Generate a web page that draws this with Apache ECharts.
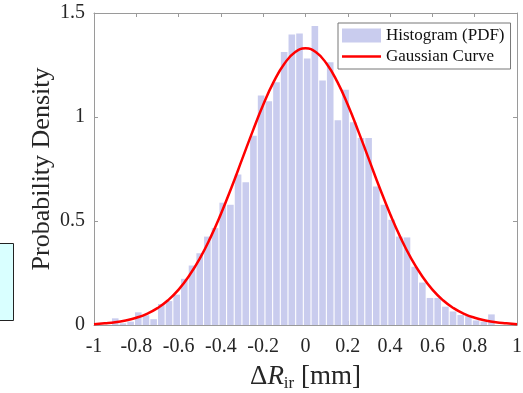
<!DOCTYPE html>
<html>
<head>
<meta charset="utf-8">
<script src="https://cdn.jsdelivr.net/npm/echarts@6/dist/echarts.min.js"></script>
<style>
  html, body { margin: 0; padding: 0; background: #fff; }
  #chart { width: 523px; height: 393px; }
</style>
</head>
<body>
<div id="chart"></div>
<script>
// histogram bins (PDF), 50 bins
const binLeft = -0.9177;
const binWidth = 0.0363;
const pdfValues = [
  0.032, 0.008, 0.016, 0.061, 0.047, 0.028, 0.101, 0.115, 0.146, 0.222,
  0.286, 0.345, 0.425, 0.466, 0.588, 0.578, 0.723, 0.686, 0.910, 1.103,
  1.076, 1.167, 1.313, 1.397, 1.402, 1.281, 1.437, 1.176, 1.263, 0.984,
  1.131, 0.975, 0.899, 0.899, 0.666, 0.578, 0.506, 0.425, 0.421, 0.280,
  0.204, 0.130, 0.130, 0.088, 0.065, 0.048, 0.043, 0.022, 0.016, 0.051
];

// gaussian curve, x = -1 .. 1 step 0.05
const curveX = [
  -1, -0.95, -0.9, -0.85, -0.8, -0.75, -0.7, -0.65, -0.6, -0.55, -0.5,
  -0.45, -0.4, -0.35, -0.3, -0.25, -0.2, -0.15, -0.1, -0.05, 0,
  0.05, 0.1, 0.15, 0.2, 0.25, 0.3, 0.35, 0.4, 0.45, 0.5,
  0.55, 0.6, 0.65, 0.7, 0.75, 0.8, 0.85, 0.9, 0.95, 1
];
const curveY = [
  0.004, 0.008, 0.013, 0.022, 0.035, 0.054, 0.081, 0.119, 0.170, 0.237, 0.319,
  0.419, 0.534, 0.661, 0.796, 0.931, 1.059, 1.170, 1.256, 1.311, 1.330,
  1.311, 1.256, 1.170, 1.059, 0.931, 0.796, 0.661, 0.534, 0.419, 0.319,
  0.237, 0.170, 0.119, 0.081, 0.054, 0.035, 0.022, 0.013, 0.008, 0.004
];

const xTicks = ['-1', '-0.8', '-0.6', '-0.4', '-0.2', '0', '0.2', '0.4', '0.6', '0.8', '1'];
const yTicks = ['0', '0.5', '1', '1.5'];

const font = 'Liberation Serif';
const axisColor = '#9a9a9a';
const textColor = '#262626';

const barData = pdfValues.map((v, i) => [binLeft + binWidth * (i + 0.5), v]);
const lineData = curveX.map((x, i) => [x, curveY[i]]);

const tickLabel = (list) => (v) => {
  const hit = list.find(t => Math.abs(parseFloat(t) - v) < 1e-6);
  return hit === undefined ? '' : hit;
};

const chart = echarts.init(document.getElementById('chart'));

const frameAxis = {
  axisLine: { show: true, onZero: false, lineStyle: { color: axisColor, width: 1 } },
  axisTick: { show: true, inside: true, length: 4, lineStyle: { color: axisColor } },
  splitLine: { show: false }
};

chart.setOption({
  animation: false,
  grid: { left: 94, right: 6, top: 13, bottom: 68, outerBoundsMode: 'none' },
  legend: {
    orient: 'vertical',
    left: 338,
    top: 23,
    itemWidth: 39,
    itemHeight: 14,
    itemGap: 4,
    padding: [4, 6, 4, 4],
    borderColor: '#777',
    borderWidth: 1,
    borderRadius: 0,
    backgroundColor: '#fff',
    textStyle: { fontFamily: font, fontSize: 17, color: '#111' },
    data: [
      { name: 'Histogram (PDF)', icon: 'rect' },
      { name: 'Gaussian Curve', icon: 'path://M0,0 L39,0 L39,2.5 L0,2.5 Z' }
    ]
  },
  xAxis: [
    Object.assign({}, frameAxis, {
      type: 'value', min: -1, max: 1, interval: 0.2,
      axisLabel: {
        fontFamily: font, fontSize: 20, color: textColor, margin: 12,
        formatter: tickLabel(xTicks)
      },
      name: '{d|Δ}{r|R}{s|ir}{n| [mm]}',
      nameLocation: 'middle',
      nameGap: 37,
      nameMoveOverlap: false,
      nameTextStyle: {
        rich: {
          d: { fontFamily: font, fontSize: 27, color: textColor, lineHeight: 30 },
          r: { fontFamily: font, fontSize: 27, fontStyle: 'italic', color: textColor, lineHeight: 30 },
          s: { fontFamily: font, fontSize: 17, color: textColor, verticalAlign: 'bottom', lineHeight: 30 },
          n: { fontFamily: font, fontSize: 27, color: textColor, lineHeight: 30 }
        }
      }
    }),
    Object.assign({}, frameAxis, {
      type: 'value', min: -1, max: 1, interval: 0.2, position: 'top',
      axisLabel: { show: false }
    })
  ],
  yAxis: [
    Object.assign({}, frameAxis, {
      type: 'value', min: 0, max: 1.5, interval: 0.5,
      axisLabel: {
        fontFamily: font, fontSize: 20, color: textColor, margin: 9,
        formatter: tickLabel(yTicks)
      },
      name: 'Probability Density',
      nameLocation: 'middle',
      nameGap: 39,
      nameMoveOverlap: false,
      nameTextStyle: { fontFamily: font, fontSize: 26, color: textColor }
    }),
    Object.assign({}, frameAxis, {
      type: 'value', min: 0, max: 1.5, interval: 0.5, position: 'right',
      axisLabel: { show: false }
    })
  ],
  series: [
    {
      name: 'Histogram (PDF)',
      type: 'bar',
      xAxisIndex: 0,
      yAxisIndex: 0,
      barWidth: 6.6,
      itemStyle: { color: 'rgb(201,204,238)' },
      data: barData
    },
    {
      name: 'Gaussian Curve',
      type: 'line',
      xAxisIndex: 0,
      yAxisIndex: 0,
      smooth: true,
      symbol: 'none',
      lineStyle: { color: '#ff0000', width: 2.5 },
      itemStyle: { color: '#ff0000' },
      z: 5,
      data: lineData
    }
  ],
  graphic: [
    {
      type: 'rect',
      left: -2,
      top: 243,
      shape: { width: 15, height: 77 },
      style: { fill: '#d9ffff', stroke: '#222', lineWidth: 1 }
    }
  ]
});
</script>
</body>
</html>
